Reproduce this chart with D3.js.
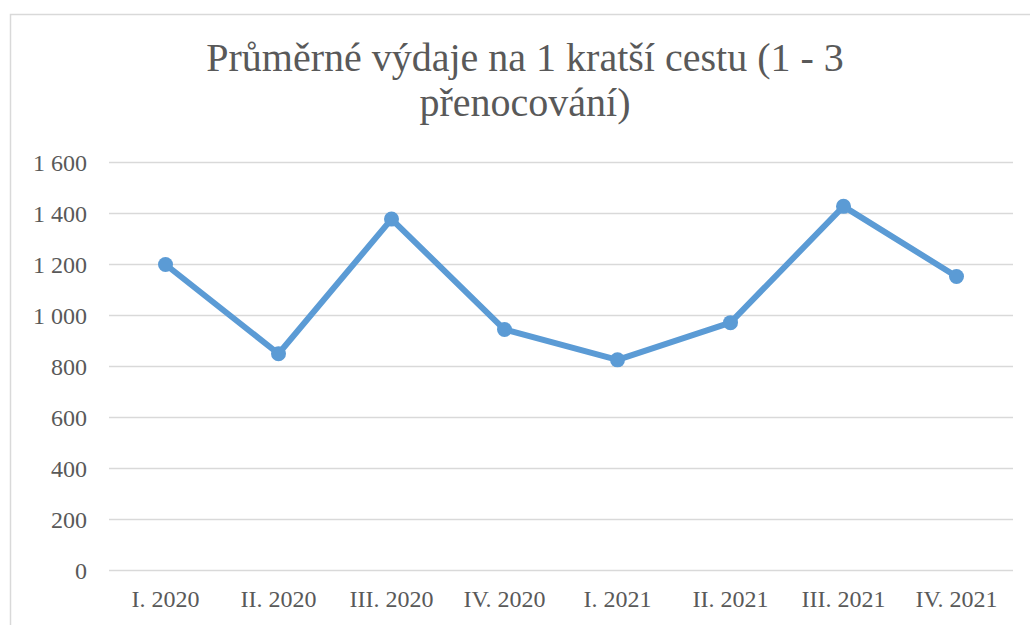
<!DOCTYPE html>
<html lang="cs">
<head>
<meta charset="utf-8">
<title>Průměrné výdaje</title>
<style>
  * { margin: 0; padding: 0; }
  body { background: #fff; }
  svg text { font-family: "Liberation Serif", "Times New Roman", serif; fill: #595959; }
</style>
<script src="https://d3js.org/d3.v7.min.js"></script>
</head>
<body>
<div id="chart"></div>
<script>
// data
var categories = ["I. 2020", "II. 2020", "III. 2020", "IV. 2020", "I. 2021", "II. 2021", "III. 2021", "IV. 2021"];
var values = [1200, 850, 1378, 945, 826, 972, 1428, 1153];
var yTicks = [0, 200, 400, 600, 800, 1000, 1200, 1400, 1600];
var titleLines = ["Průměrné výdaje na 1 kratší cestu (1 - 3", "přenocování)"];

var width = 1030, height = 625;
var svg = d3.select("#chart").append("svg")
  .attr("width", width)
  .attr("height", height);

// chart frame
svg.append("rect")
  .attr("x", 10.5).attr("y", 14.5)
  .attr("width", width + 10).attr("height", height + 10)
  .attr("fill", "none")
  .attr("stroke", "#d9d9d9")
  .attr("stroke-width", 1.5);

var plotLeft = 109, plotRight = 1013, plotTop = 162.5, plotBottom = 570.5;

var x = d3.scaleBand().domain(categories).range([plotLeft, plotRight]);
var y = d3.scaleLinear().domain([0, 1600]).range([plotBottom, plotTop]);

var fmt = function(v) { return d3.format(",")(v).replace(",", " "); };

// gridlines
svg.append("g").selectAll("line").data(yTicks).join("line")
  .attr("x1", plotLeft).attr("x2", plotRight)
  .attr("y1", function(d) { return y(d); })
  .attr("y2", function(d) { return y(d); })
  .attr("stroke", "#d9d9d9")
  .attr("stroke-width", 1.5);

// y axis labels
var yAxis = svg.append("g")
  .attr("transform", "translate(" + (plotLeft - 22) + ",0)")
  .call(d3.axisLeft(y).tickValues(yTicks).tickFormat(fmt).tickSize(0).tickPadding(0));
yAxis.select(".domain").remove();
yAxis.selectAll("text")
  .style("font-family", '"Liberation Serif", "Times New Roman", serif')
  .style("font-size", "24px")
  .attr("fill", "#595959");

// x axis labels
var xAxis = svg.append("g")
  .attr("transform", "translate(0," + plotBottom + ")")
  .call(d3.axisBottom(x).tickSize(0).tickPadding(19));
xAxis.select(".domain").remove();
xAxis.selectAll("text")
  .style("font-family", '"Liberation Serif", "Times New Roman", serif')
  .style("font-size", "24px")
  .attr("fill", "#595959");

// title
svg.append("g").selectAll("text").data(titleLines).join("text")
  .attr("x", 525)
  .attr("y", function(d, i) { return 71 + i * 45; })
  .attr("text-anchor", "middle")
  .style("font-size", "40px")
  .text(function(d) { return d; });

// series
var cx = function(d, i) { return x(categories[i]) + x.bandwidth() / 2; };
var line = d3.line()
  .x(function(d, i) { return cx(d, i); })
  .y(function(d) { return y(d); });

svg.append("path")
  .datum(values)
  .attr("d", line)
  .attr("fill", "none")
  .attr("stroke", "#5b9bd5")
  .attr("stroke-width", 6)
  .attr("stroke-linejoin", "round");

svg.append("g").selectAll("circle").data(values).join("circle")
  .attr("cx", cx)
  .attr("cy", function(d) { return y(d); })
  .attr("r", 7.5)
  .attr("fill", "#5b9bd5");
</script>
</body>
</html>
